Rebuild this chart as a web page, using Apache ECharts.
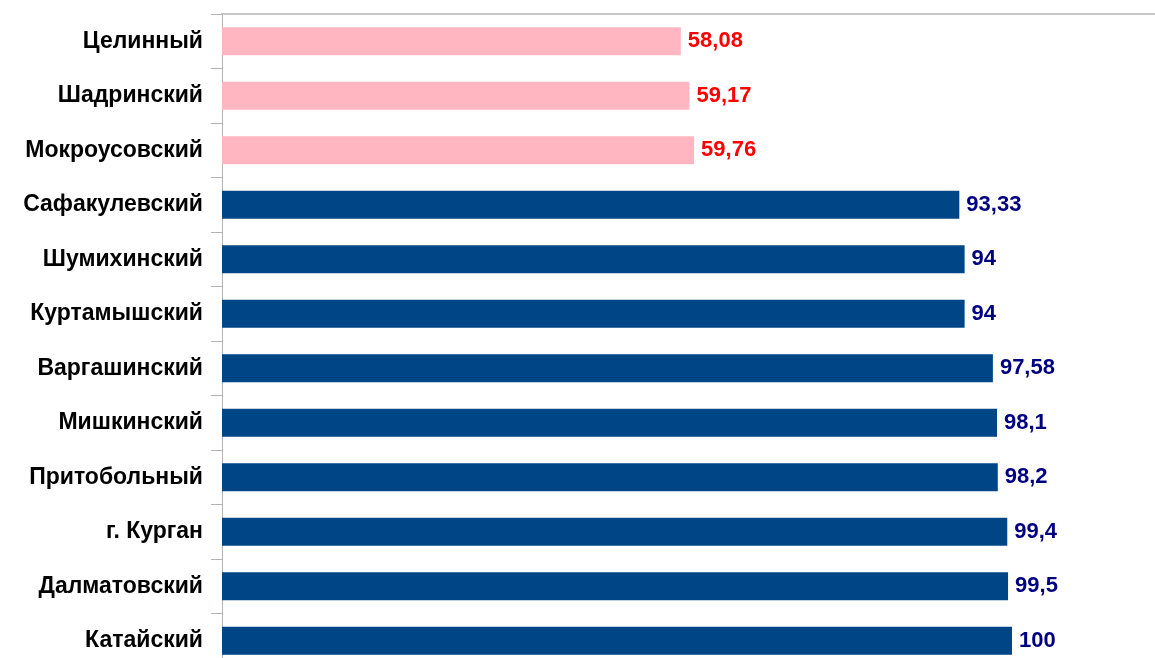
<!DOCTYPE html>
<html>
<head>
<meta charset="utf-8">
<script src="https://cdn.jsdelivr.net/npm/echarts@6/dist/echarts.min.js"></script>
<style>
  html, body { margin: 0; padding: 0; background: #fff; }
  #chart { width: 1155px; height: 658px; }
</style>
</head>
<body>
<div id="chart"></div>
<script>
const districts = [
  "Целинный", "Шадринский", "Мокроусовский", "Сафакулевский", "Шумихинский",
  "Куртамышский", "Варгашинский", "Мишкинский", "Притобольный", "г. Курган",
  "Далматовский", "Катайский"
];
const values = [58.08, 59.17, 59.76, 93.33, 94, 94, 97.58, 98.1, 98.2, 99.4, 99.5, 100];
// first three districts are highlighted
const lowCount = 3;

const chart = echarts.init(document.getElementById("chart"));

chart.setOption({
  animation: false,
  grid: { left: 222, right: 0, top: 14, height: 654, outerBoundsMode: "none" },
  xAxis: {
    type: "value",
    position: "top",
    min: 0,
    max: 118.1,
    axisLine: { show: true, lineStyle: { color: "#c8c8c8", width: 2 } },
    axisTick: { show: false },
    axisLabel: { show: false },
    splitLine: { show: false },
  },
  yAxis: {
    type: "category",
    inverse: true,
    data: districts,
    axisLine: { show: true, lineStyle: { color: "#b3b3b3", width: 1 } },
    axisTick: { show: true, length: 11, lineStyle: { color: "#b3b3b3" } },
    axisLabel: {
      margin: 19,
      color: "#000",
      fontFamily: "Liberation Sans",
      fontWeight: "bold",
      fontSize: 23,
    },
  },
  series: [
    {
      type: "bar",
      barWidth: 28,
      data: values.map((v, i) => ({
        value: v,
        itemStyle: { color: i < lowCount ? "#ffb6c1" : "#004586" },
        label: { color: i < lowCount ? "#ff0000" : "#000080" },
      })),
      label: {
        show: true,
        position: "right",
        distance: 7,
        fontFamily: "Liberation Sans",
        fontWeight: "bold",
        fontSize: 22,
        formatter: (p) => String(p.value).replace(".", ","),
      },
    },
  ],
});
</script>
</body>
</html>
